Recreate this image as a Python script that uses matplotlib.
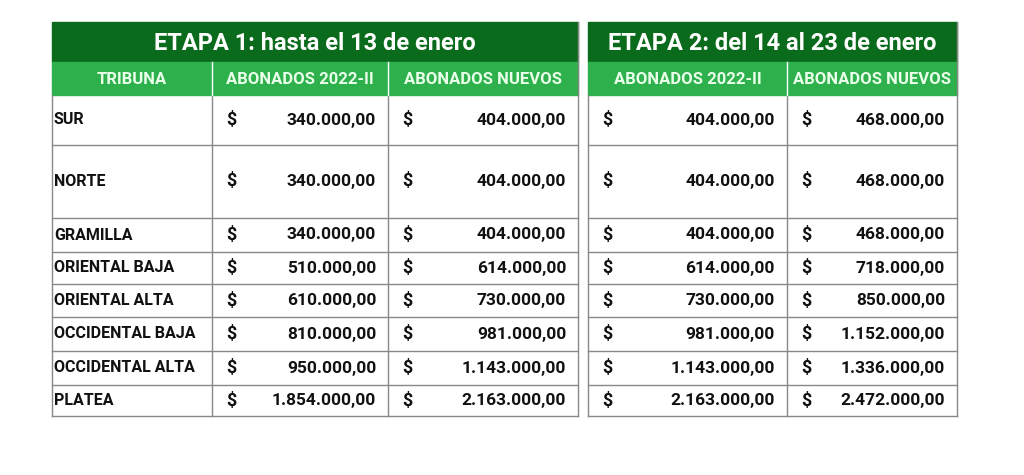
import matplotlib
matplotlib.use("Agg")
import matplotlib.pyplot as plt
from matplotlib.patches import Rectangle

tribunas = ["SUR", "NORTE", "GRAMILLA", "ORIENTAL BAJA", "ORIENTAL ALTA",
            "OCCIDENTAL BAJA", "OCCIDENTAL ALTA", "PLATEA"]
e1_abonados = ["340.000,00", "340.000,00", "340.000,00", "510.000,00", "610.000,00",
               "810.000,00", "950.000,00", "1.854.000,00"]
e1_nuevos = ["404.000,00", "404.000,00", "404.000,00", "614.000,00", "730.000,00",
             "981.000,00", "1.143.000,00", "2.163.000,00"]
e2_abonados = e1_nuevos[:]
e2_nuevos = ["468.000,00", "468.000,00", "468.000,00", "718.000,00", "850.000,00",
             "1.152.000,00", "1.336.000,00", "2.472.000,00"]
titles = ["ETAPA 1: hasta el 13 de enero", "ETAPA 2: del 14 al 23 de enero"]
headers1 = ["TRIBUNA", "ABONADOS 2022-II", "ABONADOS NUEVOS"]
headers2 = ["ABONADOS 2022-II", "ABONADOS NUEVOS"]

import matplotlib.font_manager as fm
names = {f.name for f in fm.fontManager.ttflist}
FONT = "Liberation Sans Narrow" if "Liberation Sans Narrow" in names else "Roboto"
plt.rcParams["font.family"] = FONT
plt.rcParams["font.weight"] = "bold"

DARK, LIGHT, LINE = "#0b6b1c", "#2eb14c", "#888888"
fig = plt.figure(figsize=(10.24, 4.75), dpi=100)
ax = fig.add_axes([0, 0, 1, 1])
ax.set_xlim(0, 1024); ax.set_ylim(475, 0); ax.axis("off")

rows = [95, 145, 218, 252, 284, 317, 351, 385, 416]
T1 = [52, 212, 388, 578]
T2 = [588, 787, 957]

def table(cols, title, heads, cells, first_label):
    x0, x1 = cols[0], cols[-1]
    ax.add_patch(Rectangle((x0, 22), x1 - x0, 40, color=DARK))
    ax.add_patch(Rectangle((x0, 62), x1 - x0, 33, color=LIGHT))
    ax.text((x0 + x1) / 2, 43, title, color="white", fontsize=17, ha="center", va="center")
    for i, h in enumerate(heads):
        ax.text((cols[i] + cols[i + 1]) / 2, 79, h, color="#eaffea", fontsize=12, ha="center", va="center")
    for x in cols[1:-1]:
        ax.plot([x, x], [95, rows[-1]], color=LINE, lw=1)
        ax.plot([x, x], [62, 95], color="white", lw=1)
    ax.plot([x0, x0], [95, rows[-1]], color=LINE, lw=1)
    ax.plot([x1, x1], [22, rows[-1]], color=LINE, lw=1)
    for y in rows[1:]:
        ax.plot([x0, x1], [y, y], color=LINE, lw=1)
    for r in range(len(tribunas)):
        yc = (rows[r] + rows[r + 1]) / 2
        ci = 0
        if first_label:
            ax.text(cols[0] + 2, yc, tribunas[r], fontsize=11.5, ha="left", va="center", color="#111")
            ci = 1
        for k, col in enumerate(cells):
            xl, xr = cols[ci + k], cols[ci + k + 1]
            ax.text(xl + 14, yc, "$", fontsize=13, ha="left", va="center", color="#111")
            ax.text(xr - 12, yc, col[r], fontsize=12.5, ha="right", va="center", color="#111")

table(T1, titles[0], headers1, [e1_abonados, e1_nuevos], True)
table(T2, titles[1], headers2, [e2_abonados, e2_nuevos], False)
fig.savefig("out.png", dpi=100, facecolor="white")
